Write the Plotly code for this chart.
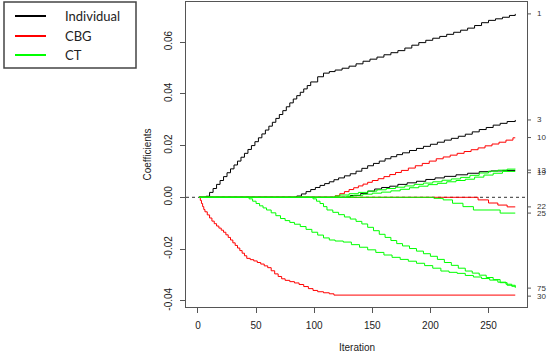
import plotly.graph_objects as go

# ---------------- data ----------------
group_names = ["Individual", "CBG", "CT"]
group_colors = ["#000000", "#FF0000", "#00FF00"]

# Individual (black)
ind1_it = [1, 7, 10, 13, 16, 19, 22, 25, 28, 31, 34, 37, 40, 43, 46, 49, 52, 55, 58, 61, 64, 67, 70, 73, 76, 79, 82, 85, 88, 91, 94, 97,
           103, 108, 113, 118, 124, 130, 136, 142, 148, 154, 160, 166, 172, 178, 184, 190, 196, 202, 208, 214, 220, 226, 232, 238, 244, 250, 256, 262, 268, 273]
ind1_val = [0, 0.0004, 0.0019, 0.0034, 0.0050, 0.0065, 0.0080, 0.0095, 0.0110, 0.0125, 0.0140, 0.0155, 0.0170, 0.0185, 0.0200, 0.0215, 0.0230, 0.0245, 0.0260, 0.0275, 0.0290, 0.0305, 0.0320, 0.0335, 0.0350, 0.0365, 0.0380, 0.0393, 0.0406, 0.0419, 0.0432, 0.0446,
            0.0466, 0.0480, 0.0486, 0.0492, 0.0499, 0.0507, 0.0516, 0.0526, 0.0534, 0.0542, 0.0551, 0.0559, 0.0567, 0.0577, 0.0588, 0.0598, 0.0607, 0.0615, 0.0622, 0.0630, 0.0638, 0.0646, 0.0654, 0.0664, 0.0675, 0.0684, 0.0690, 0.0696, 0.0703, 0.0709]

ind3_it = [1, 85, 89, 93, 97, 101, 105, 109, 113, 117, 121, 126, 131, 136, 141, 146, 151, 156, 161, 166, 171, 176, 182, 188, 194, 200, 206, 212, 218, 224, 230, 236, 242, 248, 254, 260, 266, 273]
ind3_val = [0, 0.0005, 0.0013, 0.0022, 0.0030, 0.0038, 0.0046, 0.0053, 0.0060, 0.0068, 0.0075, 0.0083, 0.0091, 0.0101, 0.0112, 0.0122, 0.0131, 0.0140, 0.0149, 0.0157, 0.0165, 0.0172, 0.0181, 0.0189, 0.0197, 0.0205, 0.0213, 0.0221, 0.0228, 0.0236, 0.0244, 0.0253, 0.0262, 0.0270, 0.0279, 0.0286, 0.0293, 0.0299]

ind13_it = [1, 131, 140, 146, 152, 158, 165, 172, 180, 188, 196, 204, 212, 222, 232, 242, 252, 262, 273]
ind13_val = [0, 0.0007, 0.0015, 0.0024, 0.0032, 0.0038, 0.0043, 0.0050, 0.0056, 0.0062, 0.0069, 0.0075, 0.0081, 0.0087, 0.0093, 0.0099, 0.0102, 0.0104, 0.0104]

# CBG (red)
cbg10_it = [1, 118, 122, 126, 130, 134, 138, 142, 146, 150, 155, 160, 165, 170, 175, 181, 187, 193, 199, 205, 211, 217, 223, 229, 235, 241, 247, 253, 259, 265, 271, 273]
cbg10_val = [0, 0.0006, 0.0014, 0.0022, 0.0030, 0.0037, 0.0044, 0.0051, 0.0058, 0.0065, 0.0072, 0.0080, 0.0088, 0.0096, 0.0104, 0.0113, 0.0122, 0.0131, 0.0140, 0.0149, 0.0156, 0.0163, 0.0170, 0.0177, 0.0184, 0.0191, 0.0199, 0.0206, 0.0213, 0.0221, 0.0230, 0.0230]

cbg22_it = [1, 241, 250, 258, 266, 273]
cbg22_val = [0, -0.0010, -0.0022, -0.0030, -0.0037, -0.0037]

cbg30_it = [1, 2, 3, 4, 5, 6, 8, 10, 12, 14, 16, 18, 20, 22, 24, 26, 28, 30, 32, 34, 36, 38, 40, 42, 45, 48, 51, 54, 57, 60, 63, 66, 69, 72, 75, 79, 83, 87, 91, 95, 99, 103, 108, 113, 117, 273]
cbg30_val = [0, -0.0012, -0.0024, -0.0036, -0.0047, -0.0056, -0.0068, -0.0080, -0.0092, -0.0102, -0.0111, -0.0119, -0.0127, -0.0135, -0.0145, -0.0155, -0.0165, -0.0176, -0.0186, -0.0196, -0.0206, -0.0216, -0.0226, -0.0236, -0.0241, -0.0246, -0.0252, -0.0258, -0.0265, -0.0272, -0.0284, -0.0296, -0.0306, -0.0315, -0.0321, -0.0326, -0.0331, -0.0337, -0.0345, -0.0353, -0.0360, -0.0365, -0.0369, -0.0373, -0.0378, -0.0378]

# CT (green)
ct19a_it = [1, 118, 122, 130, 138, 146, 154, 162, 170, 178, 186, 194, 202, 210, 218, 226, 234, 242, 250, 258, 266, 273]
ct19a_val = [0, 0.0005, 0.0009, 0.0014, 0.0019, 0.0024, 0.0029, 0.0034, 0.0039, 0.0044, 0.0050, 0.0055, 0.0060, 0.0066, 0.0071, 0.0077, 0.0085, 0.0094, 0.0101, 0.0105, 0.0109, 0.0110]

ct19b_it = [1, 128, 134, 142, 150, 158, 166, 174, 182, 190, 198, 206, 214, 222, 230, 238, 246, 254, 262, 273]
ct19b_val = [0, 0.0004, 0.0008, 0.0012, 0.0016, 0.0020, 0.0025, 0.0031, 0.0037, 0.0043, 0.0049, 0.0054, 0.0060, 0.0065, 0.0070, 0.0078, 0.0086, 0.0093, 0.0100, 0.0100]

ct25_it = [1, 203, 211, 219, 228, 237, 260, 273]
ct25_val = [0, -0.0004, -0.0010, -0.0023, -0.0036, -0.0049, -0.0061, -0.0061]

ct75a_it = [1, 44, 47, 50, 53, 56, 59, 63, 67, 71, 75, 79, 83, 88, 93, 98, 103, 108, 113, 118, 125, 132, 139, 146, 153, 160, 167, 174, 181, 188, 195, 202, 209, 216, 223, 230, 237, 244, 251, 258, 265, 270, 273]
ct75a_val = [0, -0.0006, -0.0015, -0.0024, -0.0033, -0.0041, -0.0049, -0.0060, -0.0071, -0.0082, -0.0090, -0.0097, -0.0104, -0.0113, -0.0124, -0.0135, -0.0146, -0.0157, -0.0165, -0.0169, -0.0173, -0.0183, -0.0193, -0.0203, -0.0213, -0.0223, -0.0232, -0.0240, -0.0247, -0.0255, -0.0264, -0.0274, -0.0285, -0.0290, -0.0294, -0.0302, -0.0308, -0.0314, -0.0320, -0.0328, -0.0336, -0.0344, -0.0350]

ct75b_it = [1, 99, 102, 105, 108, 111, 116, 121, 126, 131, 136, 141, 146, 151, 156, 161, 166, 171, 176, 182, 188, 194, 200, 206, 212, 218, 224, 230, 236, 242, 248, 254, 260, 266, 273]
ct75b_val = [0, -0.0006, -0.0015, -0.0024, -0.0036, -0.0049, -0.0058, -0.0067, -0.0076, -0.0084, -0.0093, -0.0103, -0.0116, -0.0129, -0.0143, -0.0155, -0.0167, -0.0179, -0.0188, -0.0198, -0.0208, -0.0218, -0.0228, -0.0240, -0.0252, -0.0263, -0.0274, -0.0285, -0.0293, -0.0301, -0.0310, -0.0318, -0.0330, -0.0340, -0.0346]

# right-hand labels (variable numbers) and their positions
right_labels = ["1", "3", "10", "13", "19", "22", "25", "75", "30"]
right_label_vals = [0.0709, 0.0299, 0.0231, 0.0105, 0.0095, -0.0037, -0.0061, -0.0351, -0.0382]

x_tick_vals = [0, 50, 100, 150, 200, 250]
y_tick_vals = [0.06, 0.04, 0.02, 0.00, -0.02, -0.04]
y_tick_text = ["0.06", "0.04", "0.02", "0.00", "-0.02", "-0.04"]

series = [
    (ind1_it, ind1_val, 0), (ind3_it, ind3_val, 0), (ind13_it, ind13_val, 0),
    (cbg10_it, cbg10_val, 1), (cbg22_it, cbg22_val, 1), (cbg30_it, cbg30_val, 1),
    (ct19a_it, ct19a_val, 2), (ct19b_it, ct19b_val, 2), (ct25_it, ct25_val, 2),
    (ct75a_it, ct75a_val, 2), (ct75b_it, ct75b_val, 2),
]

# ---------------- figure ----------------
W, H = 550, 356
ML, MR, MT, MB = 186, 23, 2, 49
PW, PH = W - ML - MR, H - MT - MB

def px(xp):
    return (xp - ML) / PW

def py(yp):
    return (H - MB - yp) / PH

fig = go.Figure()
for it, val, g in series:
    fig.add_trace(go.Scatter(x=it, y=val, mode="lines", line_shape="hv",
                             line=dict(color=group_colors[g], width=1),
                             showlegend=False, hoverinfo="skip"))

axis_font = dict(family="Liberation Sans, Arial, sans-serif", size=10, color="#222")
fig.update_layout(
    width=W, height=H,
    margin=dict(l=ML, r=MR, t=MT, b=MB, pad=0),
    paper_bgcolor="white", plot_bgcolor="white",
    showlegend=False,
    xaxis=dict(range=[-10.3, 283.1], tickvals=x_tick_vals, ticks="outside", ticklen=5,
               tickcolor="#555", showline=True, mirror=True, linecolor="#555", linewidth=1,
               showgrid=False, zeroline=False, tickfont=axis_font, ticklabelstandoff=4),
    yaxis=dict(range=[-0.0424, 0.0755], tickvals=y_tick_vals, ticktext=y_tick_text,
               tickangle=-90, ticks="outside", ticklen=5, tickcolor="#555",
               showline=True, mirror=True, linecolor="#555", linewidth=1,
               showgrid=False, zeroline=False, tickfont=axis_font, ticklabelstandoff=4),
)

shapes = []
annotations = []
# dotted zero line
shapes.append(dict(type="line", xref="paper", yref="y", x0=0, x1=1, y0=0, y1=0,
                   line=dict(color="#333", width=1, dash="dot"), layer="below"))
# right-hand ticks and labels
for lab, v in zip(right_labels, right_label_vals):
    shapes.append(dict(type="line", xref="paper", yref="y", x0=1, x1=1 + 4 / PW, y0=v, y1=v,
                       line=dict(color="#555", width=1)))
    annotations.append(dict(text=lab, xref="paper", yref="y", x=1 + 8 / PW, y=v,
                            xanchor="left", yanchor="middle", showarrow=False,
                            font=dict(family="Liberation Sans, Arial, sans-serif", size=8, color="#333")))
# axis titles
annotations.append(dict(text="Coefficients", xref="paper", yref="paper", x=px(147), y=0.5,
                        textangle=-90, showarrow=False, xanchor="center", yanchor="middle",
                        font=dict(family="Liberation Sans, Arial, sans-serif", size=10, color="#222")))
annotations.append(dict(text="Iteration", xref="paper", yref="paper", x=0.5, y=py(347),
                        showarrow=False, xanchor="center", yanchor="middle",
                        font=dict(family="Liberation Sans, Arial, sans-serif", size=10, color="#222")))
# legend box
shapes.append(dict(type="rect", xref="paper", yref="paper", x0=px(4), x1=px(136), y0=py(68), y1=py(2),
                   line=dict(color="#444", width=1.5), fillcolor="white"))
legend_rows = [16, 36, 55]
for name, col, row in zip(group_names, group_colors, legend_rows):
    shapes.append(dict(type="line", xref="paper", yref="paper", x0=px(15), x1=px(46), y0=py(row), y1=py(row),
                       line=dict(color=col, width=2)))
    annotations.append(dict(text=name, xref="paper", yref="paper", x=px(63), y=py(row),
                            xanchor="left", yanchor="middle", showarrow=False,
                            font=dict(family="Lato, Open Sans, sans-serif", size=13, color="#222")))
fig.update_layout(shapes=shapes, annotations=annotations)

fig.write_html("out.html", post_script="document.body.style.margin='0';",
               config={"displayModeBar": False})
